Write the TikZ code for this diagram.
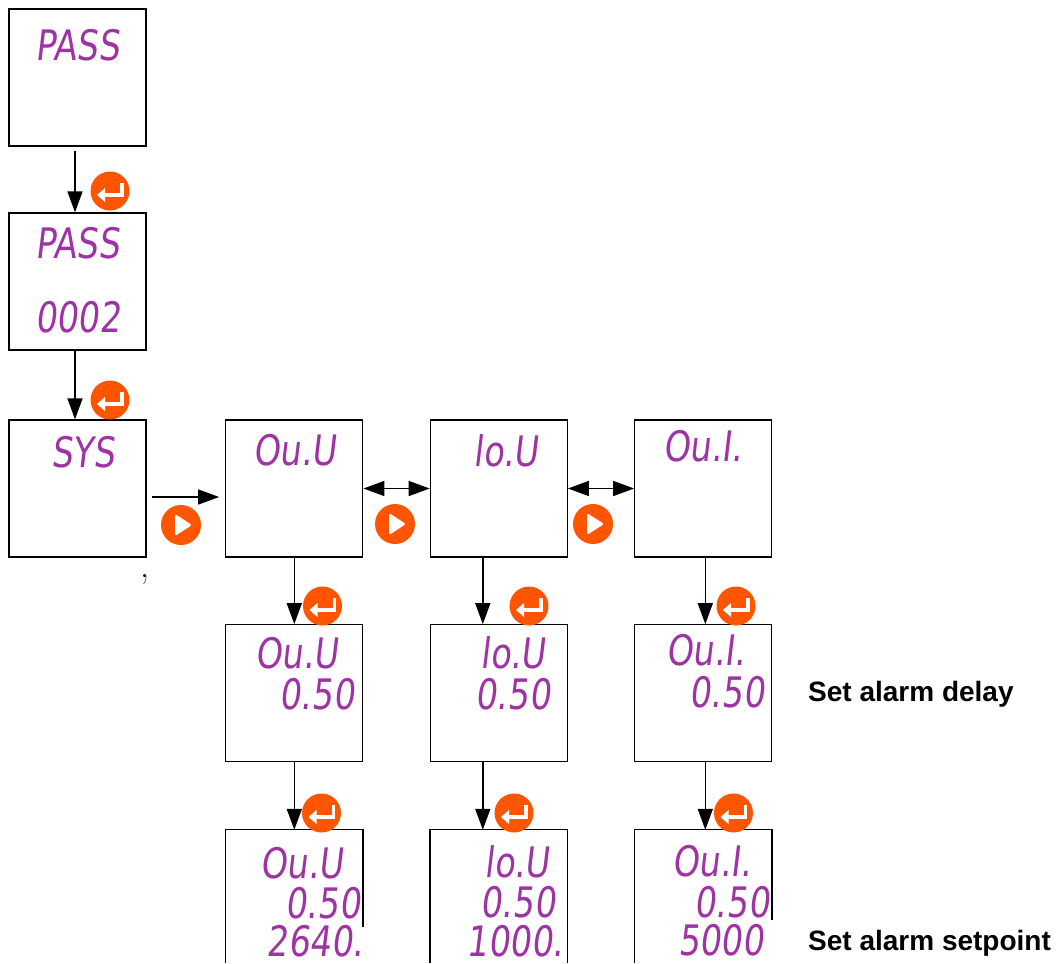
\documentclass[tikz,border=0pt]{standalone}
\usepackage{fontspec}
\usetikzlibrary{arrows.meta}
\newfontfamily\lcdfont[FakeStretch=0.8,FakeSlant=0.12]{DejaVu Sans}
\newfontfamily\lblfont{Liberation Sans}
\definecolor{lcdpurple}{RGB}{158,52,164}
\definecolor{btnorange}{RGB}{255,85,0}
\begin{document}
\begin{tikzpicture}[x=1pt,y=-1pt,
  screen/.style={draw=black, line width=1.3pt, minimum width=137pt, minimum height=137pt, inner sep=0pt, fill=white},
  openscreen/.style={draw=none, minimum width=137pt, minimum height=133pt, inner sep=0pt},
  edge/.style={line width=1.3pt},
  lcd/.style={font=\lcdfont\fontsize{42}{42}\selectfont, text=lcdpurple, inner sep=0pt},
  flow/.style={line width=1.5pt, -{Triangle[length=21pt,width=15pt]}},
  twoway/.style={line width=1.5pt, {Triangle[length=21pt,width=15pt]}-{Triangle[length=21pt,width=15pt]}},
  lbl/.style={font=\lblfont\bfseries\fontsize{28}{32}\selectfont, anchor=base west, inner sep=0pt},
  enterbtn/.pic={
    \fill[btnorange] (0,0) circle[radius=19.5pt];
    \draw[white, line width=3.5pt, line join=miter] (12,-8) -- (12,4) -- (-6,4);
    \fill[white] (-13,4) -- (-5,-3) -- (-5,11) -- cycle;
  },
  playbtn/.pic={
    \fill[btnorange] (0,0) circle[radius=20pt];
    \fill[white, rounded corners=1.5pt] (-6,-11) -- (11,0) -- (-6,11) -- cycle;
  }
]
\useasboundingbox[fill=white] (0,0) rectangle (1059,963);

% screens
\node[screen] (A) at (77.5,77.5) {};
\node[screen] (B) at (77.5,281.5) {};
\node[screen] (C) at (77.5,488.5) {};
\node[screen] (D) at (294.3,488.5) {};
\node[screen] (E) at (498.8,488.5) {};
\node[screen] (F) at (703.3,488.5) {};
\node[screen] (D2) at (294.3,693.3) {};
\node[screen] (E2) at (498.8,693.3) {};
\node[screen] (F2) at (703.3,693.3) {};
\node[openscreen] (D3) at (294.3,896.5) {};
\node[openscreen] (E3) at (498.8,896.5) {};
\node[openscreen] (F3) at (703.3,896.5) {};
\draw[edge] (D3.south west) -- (D3.north west) -- (D3.north east) -- ([yshift=-97pt]D3.north east);
\draw[edge] (E3.south west) -- (E3.north west) -- (E3.north east) -- (E3.south east);
\draw[edge] (F3.south west) -- (F3.north west) -- (F3.north east) -- ([yshift=-90pt]F3.north east);

% display texts
\node[lcd] (tA) at (77.5,45.5) {PASS};
\node[lcd] (tB1) at (77.5,243) {PASS};
\node[lcd] (tB2) at (78,317.5) {0002};
\node[lcd] (tC) at (83,452) {SYS};
\node[lcd] (tD) at (295,450) {Ou.U};
\node[lcd] (tE) at (506,451) {lo.U};
\node[lcd] (tF) at (703,446.5) {Ou.I.};
\node[lcd] (tD2a) at (297,653) {Ou.U};
\node[lcd] (tD2b) at (317,694) {0.50};
\node[lcd] (tE2a) at (513,653) {lo.U};
\node[lcd] (tE2b) at (513,694) {0.50};
\node[lcd] (tF2a) at (706,650) {Ou.I.};
\node[lcd] (tF2b) at (727,692) {0.50};
\node[lcd] (tD3a) at (302,863) {Ou.U};
\node[lcd] (tD3b) at (323,903) {0.50};
\node[lcd] (tD3c) at (315,941) {2640.};
\node[lcd] (tE3a) at (517,862) {lo.U};
\node[lcd] (tE3b) at (518,902) {0.50};
\node[lcd] (tE3c) at (515,941) {1000.};
\node[lcd] (tF3a) at (712,861) {Ou.I.};
\node[lcd] (tF3b) at (732,902) {0.50};
\node[lcd] (tF3c) at (721,940) {5000};

% connectors
\draw[flow] ([xshift=-2.5pt,yshift=-4pt]A.south) -- ([xshift=-2.5pt]B.north);
\draw[flow] ([xshift=-2.5pt]B.south) -- ([xshift=-2.5pt]C.north);
\draw[flow] ([xshift=5pt,yshift=-8.5pt]C.east) -- ([xshift=-6pt,yshift=-8.5pt]D.west);
\draw[twoway] (D.east) -- (E.west);
\draw[twoway] (E.east) -- (F.west);
\draw[flow] (D.south) -- (D2.north);
\draw[flow] ([xshift=-16pt]E.south) -- ([xshift=-16pt]E2.north);
\draw[flow] ([xshift=2pt]F.south) -- ([xshift=2pt]F2.north);
\draw[flow] (D2.south) -- (D3.north);
\draw[flow] ([xshift=-16pt]E2.south) -- ([xshift=-16pt]E3.north);
\draw[flow] ([xshift=2pt]F2.south) -- ([xshift=2pt]F3.north);

% buttons
\pic at (110,191) {enterbtn};
\pic at (110,400) {enterbtn};
\pic at (322.5,606) {enterbtn};
\pic at (529,606) {enterbtn};
\pic at (736,606) {enterbtn};
\pic at (321.5,813) {enterbtn};
\pic at (514,813) {enterbtn};
\pic at (733.5,813) {enterbtn};
\pic at (181,525) {playbtn};
\pic at (395,524) {playbtn};
\pic at (593,524) {playbtn};

% stray comma and labels
\node[inner sep=0pt, anchor=base, font=\fontsize{36}{38}\selectfont] (comma) at (145,577) {,};
\node[lbl] (delay) at (808,701.5) {Set alarm delay};
\node[lbl] (setp) at (808,950.5) {Set alarm setpoint};
\end{tikzpicture}
\end{document}
